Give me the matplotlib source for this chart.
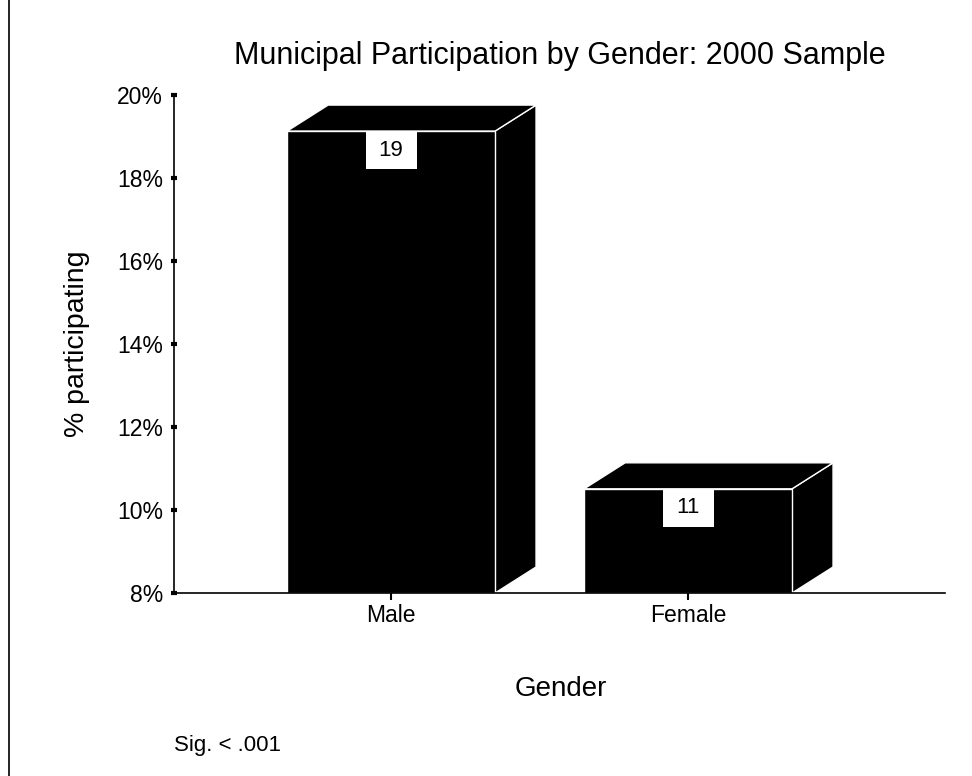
import matplotlib
matplotlib.use("Agg")
import matplotlib.pyplot as plt
import matplotlib.transforms as mtransforms
from matplotlib.patches import Polygon, Rectangle
from matplotlib.lines import Line2D

categories = ["Male", "Female"]
values = [19.13, 10.51]
value_labels = ["19", "11"]
yticks = [8, 10, 12, 14, 16, 18, 20]
ytick_labels = ["8%", "10%", "12%", "14%", "16%", "18%", "20%"]

plt.rcParams['font.family'] = ['Liberation Sans', 'DejaVu Sans']

fig = plt.figure(figsize=(9.72, 7.76), dpi=100)
ax = fig.add_axes([174/972, 1 - 593/776, 771/972, 498/776])

ax.set_xlim(-0.731, 1.865)
ax.set_ylim(8, 20)

bar_w = 0.70
dx = 0.138   # depth offset in x data units
dy = 0.627   # depth offset in y data units
ymin = 8

for i, v in enumerate(values):
    x0 = i - bar_w / 2
    x1 = i + bar_w / 2
    side = Polygon([(x1, ymin), (x1, v), (x1 + dx, v + dy), (x1 + dx, ymin + dy)],
                   closed=True, facecolor='black', edgecolor='white', lw=1.0,
                   zorder=2, clip_on=False)
    ax.add_patch(side)
    top = Polygon([(x0, v), (x1, v), (x1 + dx, v + dy), (x0 + dx, v + dy)],
                  closed=True, facecolor='black', edgecolor='white', lw=1.0,
                  zorder=2, clip_on=False)
    ax.add_patch(top)
    ax.bar(i, v - ymin, bottom=ymin, width=bar_w, color='black',
           edgecolor='white', linewidth=1.0, zorder=3)
    trans = fig.dpi_scale_trans + mtransforms.ScaledTranslation(i, v, ax.transData)
    ax.add_patch(Rectangle((-0.255, -0.38), 0.51, 0.38, transform=trans,
                           facecolor='white', edgecolor='none', zorder=4, clip_on=False))
    ax.text(0, -0.19, value_labels[i], transform=trans, ha='center', va='center',
            fontsize=16, zorder=5)

ax.set_xticks(range(len(categories)))
ax.set_xticklabels(categories, fontsize=16.5)
ax.set_yticks(yticks)
ax.set_yticklabels(ytick_labels, fontsize=16.5)

for s in ['top', 'right']:
    ax.spines[s].set_visible(False)
for s in ['left', 'bottom']:
    ax.spines[s].set_linewidth(1.2)
    ax.spines[s].set_zorder(6)

ax.tick_params(axis='y', direction='inout', length=4, width=3, pad=6)
ax.tick_params(axis='x', direction='out', length=5, width=1.5, pad=3)

ax.set_ylabel("% participating", fontsize=20.5)
ax.yaxis.set_label_coords(-0.109, 0.5)
ax.set_xlabel("Gender", fontsize=20)
ax.xaxis.set_label_coords(0.502, -0.166)
ax.set_title("Municipal Participation by Gender: 2000 Sample", fontsize=22, pad=22)

fig.text(174/972, 1 - 745/776, "Sig. < .001", fontsize=16, ha='left', va='center')

fig.add_artist(Line2D([9/972, 9/972], [0, 1], color='black', lw=1.2,
                      transform=fig.transFigure))

fig.savefig("out.png", dpi=100)
